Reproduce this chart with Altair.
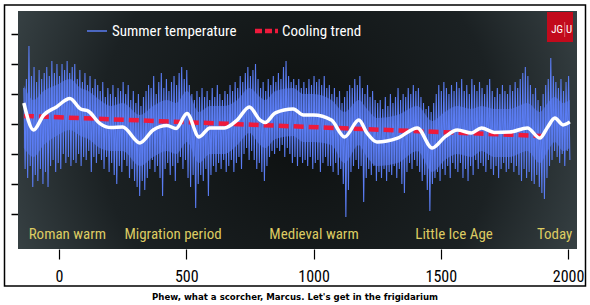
import altair as alt
import pandas as pd

# ---------------- data ----------------
BIN_START = -140   # first decade bin
BIN_STEP = 10

# decade highs / lows of the annual summer-temperature series (anomaly units)
temp_hi = [
    1.2, 1.5, 2.6, 1.6, 1.9, 1.4, 1.8, 1.5, 1.7, 1.9,
    1.6, 2.1, 1.7, 2.0, 1.6, 2.0, 1.8, 2.1, 1.7, 1.9,
    2.0, 1.5, 1.8, 1.4, 1.7, 1.3, 1.6, 1.2, 1.5, 1.3,
    1.1, 1.4, 0.9, 1.2, 1.0, 1.3, 0.9, 1.2, 1.1, 1.4,
    1.0, 1.3, 0.8, 1.1, 0.7, 1.0, 0.6, 0.9, 1.1, 1.3,
    1.2, 1.6, 1.0, 1.4, 1.7, 1.2, 1.5, 1.1, 1.4, 1.6,
    1.3, 1.7, 1.9, 1.5, 1.8, 1.3, 1.0, 0.8, 1.1, 0.9,
    1.2, 0.9, 1.1, 0.8, 1.2, 0.9, 1.3, 1.0, 0.8, 1.1,
    1.0, 1.3, 1.1, 1.4, 1.2, 1.6, 1.4, 1.7, 1.9, 1.6,
    1.8, 2.0, 1.5, 1.2, 1.4, 1.1, 1.5, 1.3, 1.6, 1.4,
    1.7, 1.5, 1.9, 2.1, 1.6, 1.4, 1.5, 1.3, 1.5, 1.2,
    1.4, 1.2, 1.5, 1.3, 1.6, 1.4, 1.5, 1.3, 1.6, 1.2,
    1.3, 1.0, 1.2, 0.9, 1.1, 0.7, 0.9, 1.1, 1.3, 1.2,
    1.5, 1.3, 1.6, 1.2, 1.0, 1.3, 0.9, 1.1, 0.8, 0.7,
    0.8, 0.5, 0.9, 0.6, 1.0, 0.7, 0.9, 1.2, 0.8, 1.0,
    0.9, 1.2, 1.0, 1.3, 1.1, 1.2, 0.9, 0.7, 0.5, 0.6,
    0.4, 0.7, 1.0, 1.3, 1.1, 1.4, 1.2, 1.0, 1.3, 1.1,
    1.4, 1.2, 1.5, 1.1, 1.3, 1.0, 1.5, 1.3, 1.1, 1.4,
    1.2, 1.0, 1.3, 1.5, 1.1, 0.9, 1.2, 1.0, 1.3, 1.1,
    1.0, 1.3, 1.1, 1.4, 1.2, 1.5, 1.7, 1.9, 1.6, 1.3,
    1.0, 1.2, 0.8, 0.6, 1.0, 1.3, 1.5, 2.2, 1.6, 1.4,
    1.2, 1.5, 1.1, 1.4, 1.6,
]
temp_lo = [
    -1.5, -1.8, -1.4, -2.1, -1.7, -1.9, -1.5, -2.0, -1.6, -2.1,
    -1.4, -1.2, -1.6, -1.3, -1.5, -1.0, -1.3, -1.1, -1.4, -1.2,
    -1.3, -1.0, -1.4, -1.1, -1.2, -0.9, -1.6, -1.1, -1.3, -1.0,
    -1.2, -1.5, -1.1, -1.6, -1.3, -1.7, -2.0, -1.4, -1.6, -1.2,
    -1.4, -1.8, -1.5, -1.9, -2.1, -2.4, -1.9, -2.2, -1.8, -1.5,
    -1.2, -1.6, -1.4, -1.8, -2.4, -1.5, -1.3, -1.7, -1.4, -1.9,
    -1.3, -1.1, -1.5, -1.2, -1.8, -2.1, -1.7, -2.8, -2.0, -1.7,
    -1.9, -1.5, -2.4, -1.7, -1.4, -1.6, -1.3, -1.5, -1.2, -1.6,
    -1.4, -1.2, -1.6, -1.3, -1.1, -1.5, -1.0, -0.8, -1.2, -0.9,
    -1.2, -1.5, -1.3, -1.6, -1.9, -1.4, -1.1, -0.9, -1.0, -0.8,
    -0.9, -0.7, -1.1, -0.8, -1.0, -1.3, -1.1, -1.4, -1.1, -1.3,
    -1.2, -1.4, -1.1, -1.5, -1.3, -1.2, -1.6, -1.3, -1.1, -1.4,
    -1.4, -1.6, -1.3, -1.7, -1.5, -2.0, -3.1, -2.2, -1.6, -1.4,
    -1.2, -1.5, -1.4, -2.6, -1.8, -1.5, -1.7, -1.4, -1.9, -1.6,
    -1.8, -1.5, -1.9, -1.6, -1.7, -1.4, -1.8, -1.5, -2.0, -2.3,
    -1.6, -1.3, -1.5, -1.2, -1.4, -1.6, -1.9, -1.7, -2.2, -2.9,
    -2.0, -1.8, -1.6, -1.9, -1.5, -1.7, -1.4, -1.8, -1.3, -1.5,
    -1.6, -1.3, -1.8, -1.5, -1.9, -1.4, -1.7, -1.2, -1.5, -1.3,
    -1.4, -1.6, -1.2, -1.5, -1.7, -1.4, -1.8, -1.5, -1.3, -1.6,
    -1.5, -1.3, -1.6, -1.4, -1.7, -1.9, -1.5, -1.8, -1.6, -1.9,
    -2.0, -1.7, -2.1, -2.3, -2.5, -1.8, -1.4, -1.2, -0.9, -1.1,
    -1.3, -1.0, -1.4, -0.9, -1.2,
]

# smoothed curve (white)
smooth_years = [-138, -100, -60, -10, 43, 85, 115, 160, 205, 250, 318, 370, 424, 460,
                503, 550, 593, 650, 700, 748, 790, 810, 850, 920, 960, 1000, 1070,
                1122, 1178, 1210, 1249, 1330, 1408, 1466, 1516, 1565, 1620, 1660,
                1710, 1770, 1840, 1889, 1920, 1948, 1980, 2007]
smooth_vals = [0.7, -0.2, 0.3, 0.57, 0.85, 0.5, 0.43, 0.02, -0.12, -0.1, -0.63, -0.2,
               -0.05, -0.15, 0.35, -0.43, -0.13, -0.13, 0.13, 0.57, 0.13, 0.05, 0.37,
               0.5, 0.3, 0.3, 0.13, -0.43, 0.13, -0.3, -0.6, -0.47, -0.13, -0.8,
               -0.43, -0.2, -0.3, -0.13, -0.28, -0.27, -0.13, -0.47, -0.1, 0.2,
               -0.03, 0.07]
# dense core of the annual band (upper / lower edge at the same years)
core_hi = [1.3, 0.8, 1.1, 1.3, 1.5, 1.2, 1.1, 0.8, 0.6, 0.7, 0.3, 0.6, 0.8, 0.7, 1.1,
           0.4, 0.6, 0.6, 0.8, 1.2, 0.9, 0.8, 1.1, 1.2, 1.0, 1.0, 0.8, 0.4, 0.8, 0.5,
           0.2, 0.3, 0.6, 0.1, 0.4, 0.6, 0.5, 0.6, 0.5, 0.5, 0.7, 0.4, 0.7, 0.9, 0.7, 0.8]
core_lo = [-0.8, -1.1, -0.7, -0.4, -0.2, -0.4, -0.5, -0.8, -0.9, -0.9, -1.4, -1.1, -0.9,
           -1.0, -0.6, -1.3, -1.0, -1.0, -0.7, -0.3, -0.7, -0.8, -0.5, -0.4, -0.6, -0.6,
           -0.7, -1.3, -0.7, -1.1, -1.4, -1.3, -0.9, -1.6, -1.2, -1.0, -1.1, -0.9, -1.1,
           -1.1, -0.9, -1.3, -0.9, -0.6, -0.9, -0.8]

# linear cooling trend (red dashed)
trend_years = [-138, 1900]
trend_vals = [0.27, -0.40]

period_labels = ["Roman warm", "Migration period", "Medieval warm", "Little Ice Age", "Today"]
period_years = [33, 448, 1002, 1552, 1947]
period_y = -3.83

x_ticks = [0, 500, 1000, 1500, 2000]
y_ticks = [-3, -2, -1, 0, 1, 2, 3]

legend_labels = ["Summer temperature", "Cooling trend"]
caption = "Phew, what a scorcher, Marcus. Let's get in the frigidarium"

# ---------------- build tables ----------------
rows = []
for i, (h, l) in enumerate(zip(temp_hi, temp_lo)):
    y0 = BIN_START + i * BIN_STEP
    rows.append({"year": y0 + 2, "temp": h})
    rows.append({"year": y0 + 7, "temp": l})
blue_df = pd.DataFrame(rows)
smooth_df = pd.DataFrame({"year": smooth_years, "temp": smooth_vals})
core_df = pd.DataFrame({"year": smooth_years, "temp": core_hi, "temp2": core_lo})
trend_df = pd.DataFrame({"year": trend_years, "temp": trend_vals})
period_df = pd.DataFrame({"year": period_years, "label": period_labels,
                          "temp": [period_y] * len(period_labels)})
one = pd.DataFrame({"a": [0]})

W, H = 559, 238
FONT = "Liberation Sans Narrow, Arial Narrow, Roboto Condensed, DejaVu Sans Condensed, sans-serif"
BLUE = "#5a7cf2"
RED = "#ee1a3c"
YELLOW = "#dccb62"
FS = 15

xscale = alt.Scale(domain=[-161, 2035], nice=False, zero=False)
yscale = alt.Scale(domain=[-4.167, 3.767], nice=False, zero=False)

x_axis = alt.Axis(values=x_ticks, title=None, grid=False, domain=False, tickSize=10,
                  tickColor="black", tickWidth=1.2, labelFont=FONT, labelFontSize=16,
                  labelColor="black", labelPadding=9, format="d")
y_axis = alt.Axis(values=y_ticks, labels=False, title=None, grid=False, domain=False,
                  tickSize=7, tickWidth=1.5, tickColor="black")

X = alt.X("year:Q", scale=xscale, axis=x_axis)
Y = alt.Y("temp:Q", scale=yscale, axis=y_axis)

grad = alt.Gradient(
    gradient="radial",
    stops=[alt.GradientStop(color="#0d1010", offset=0),
           alt.GradientStop(color="#1b2123", offset=0.5),
           alt.GradientStop(color="#384245", offset=0.78),
           alt.GradientStop(color="#57636a", offset=1)],
    x1=0.5, y1=0.5, r1=0, x2=0.5, y2=0.5, r2=0.71)

background = alt.Chart(one).mark_rect(fill=grad).encode(
    x=alt.value(0), x2=alt.value(W), y=alt.value(0), y2=alt.value(H))

core = alt.Chart(core_df).mark_area(color=BLUE, opacity=0.55, interpolate="monotone").encode(
    x=X, y=Y, y2="temp2:Q")

blue = alt.Chart(blue_df).mark_line(color=BLUE, strokeWidth=1.1, clip=True).encode(x=X, y=Y)

trend = alt.Chart(trend_df).mark_line(color=RED, strokeWidth=4.5, strokeDash=[10, 5]).encode(x=X, y=Y)

smooth = alt.Chart(smooth_df).mark_line(color="white", strokeWidth=3.5,
                                        interpolate="monotone").encode(x=X, y=Y)

periods = alt.Chart(period_df).mark_text(font=FONT, fontSize=FS, color=YELLOW,
                                         align="center", baseline="alphabetic").encode(
    x=X, y=Y, text="label:N")

# legend (drawn as decoration)
leg_blue = alt.Chart(one).mark_rule(color=BLUE, strokeWidth=1.5).encode(
    x=alt.value(69), x2=alt.value(89), y=alt.value(20))
leg_blue_t = alt.Chart(one).mark_text(font=FONT, fontSize=FS, color="white", align="left",
                                      baseline="alphabetic", text=legend_labels[0]).encode(
    x=alt.value(94), y=alt.value(25))
leg_red = alt.Chart(one).mark_rule(color=RED, strokeWidth=4.5, strokeDash=[7, 3]).encode(
    x=alt.value(237), x2=alt.value(260), y=alt.value(20))
leg_red_t = alt.Chart(one).mark_text(font=FONT, fontSize=FS, color="white", align="left",
                                     baseline="alphabetic", text=legend_labels[1]).encode(
    x=alt.value(264), y=alt.value(25))

# JGU logo
logo_box = alt.Chart(one).mark_rect(fill="#c20a1c").encode(
    x=alt.value(529), x2=alt.value(555), y=alt.value(1), y2=alt.value(31))
logo_jg = alt.Chart(one).mark_text(font=FONT, fontSize=11, color="white", align="right",
                                   baseline="alphabetic", text="JG").encode(
    x=alt.value(545), y=alt.value(22))
logo_u = alt.Chart(one).mark_text(font=FONT, fontSize=11, color="white", align="left",
                                  baseline="alphabetic", text="U").encode(
    x=alt.value(548), y=alt.value(22))
logo_bar = alt.Chart(one).mark_rule(color="#e58080", strokeWidth=0.8).encode(
    x=alt.value(546.7), y=alt.value(11), y2=alt.value(26))

border = alt.Chart(one).mark_rect(fill=None, stroke="black", strokeWidth=1.5).encode(
    x=alt.value(-13.5), x2=alt.value(567.5), y=alt.value(-6), y2=alt.value(275))

cap = alt.Chart(one).mark_text(font="DejaVu Sans", fontSize=8.6, fontWeight="bold",
                               color="black", align="center", baseline="alphabetic",
                               text=caption).encode(
    x=alt.value(277), y=alt.value(289))

chart = alt.layer(
    background, core, blue, trend, smooth, periods,
    leg_blue, leg_blue_t, leg_red, leg_red_t,
    logo_box, logo_jg, logo_u, logo_bar, border, cap
).properties(
    width=W, height=H,
    padding={"left": 18, "top": 11, "right": 13, "bottom": 56},
    autosize=alt.AutoSizeParams(type="none"),
    background="white",
).configure_view(stroke=None)

chart.save("out.html", embed_options={"renderer": "svg", "actions": False})
